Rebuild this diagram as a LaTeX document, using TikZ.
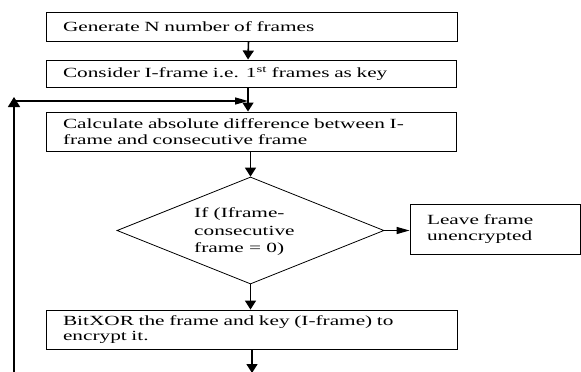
\documentclass[tikz,border=0pt]{standalone}
\usepackage{fontspec}
\setmainfont{Liberation Serif}[FakeStretch=1.52]
\usetikzlibrary{arrows.meta,shapes.geometric}
\begin{document}
\begin{tikzpicture}[x=1pt,y=-1pt,
  box/.style={draw, line width=0.9pt, align=left, inner xsep=17pt, inner ysep=0pt,
    font=\fontsize{14}{15.5}\selectfont},
  decision/.style={draw, diamond, line width=0.8pt, inner sep=0pt},
  vline/.style={line width=1.6pt, -{Triangle[length=9pt,width=11pt]}},
  hline/.style={line width=1.4pt, -{Triangle[length=13pt,width=7pt]}},
]
\fill[white] (0,0) rectangle (581,372);
\useasboundingbox (0,0) rectangle (581,372);

\node[box, text width=377pt, minimum width=411pt, minimum height=29pt] (b1) at (251.5,26.5)
  {Generate N number of frames};
\node[box, text width=376pt, minimum width=410pt, minimum height=27pt] (b2) at (251,73.5)
  {Consider I-frame i.e. 1\textsuperscript{st} frames as key};
\node[box, text width=376pt, minimum width=410pt, minimum height=39pt] (b3) at (251,131.5)
  {Calculate absolute difference between I-\\frame and consecutive frame};
\node[decision, minimum width=267pt, minimum height=107pt] (d) at (250.5,230.5) {};
\node[anchor=west, align=left, inner sep=0pt, font=\fontsize{14}{17.5}\selectfont] (dt) at (194,232)
  {If (Iframe-\\consecutive\\frame = 0)};
\node[box, text width=136pt, minimum width=170pt, minimum height=50pt] (lv) at (495,229)
  {Leave frame\\unencrypted};
\node[box, text width=377pt, minimum width=411pt, minimum height=39pt] (b4) at (251.5,329.5)
  {BitXOR the frame and key (I-frame) to\\encrypt it.};

\coordinate (lb) at (14,372);
\coordinate (lt) at (14,97);
\coordinate (ls) at (16,101);
\coordinate (jn) at (248,101);
\coordinate (out) at (252,373);

\draw[vline] ([xshift=-3pt]b1.south) -- ([xshift=-3pt]b2.north);
\draw[vline] ([xshift=-3pt]b2.south) -- ([xshift=-3pt]b3.north);
\draw[vline] (b3.south -| d.north) -- (d.north);
\draw[hline] (d.east) -- (d.east -| lv.west);
\draw[vline] (d.south) -- (d.south |- b4.north);
\draw[vline] (b4.south -| out) -- (out);
\draw[line width=1.4pt, -{Triangle[length=10pt,width=12pt]}] (lb) -- (lt);
\draw[hline] (ls) -- (jn);
\end{tikzpicture}
\end{document}
